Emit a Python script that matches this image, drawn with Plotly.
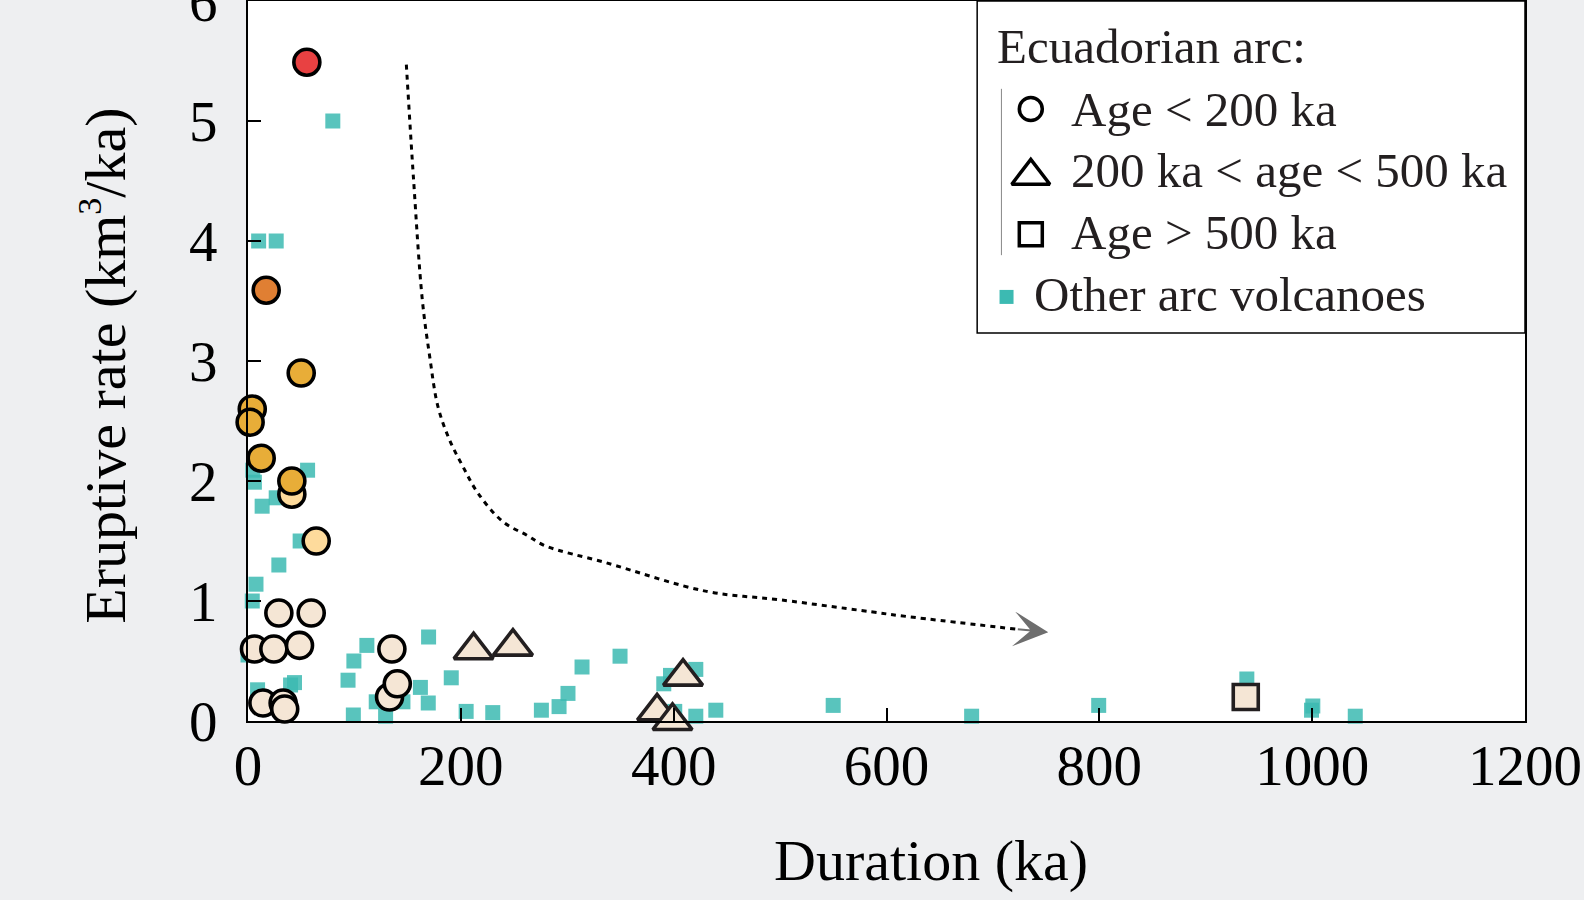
import plotly.graph_objects as go

# ---------------- data ----------------
# Other arc volcanoes: duration (ka), eruptive rate (km3/ka)
other_x = [10, 26.5, 79.7, 4.5, 6, 56, 13.3, 26.5, 49, 29, 7.5, 4, 0, 9, 40, 43.7,
           99, 94, 99.5, 111.7, 129.3, 120.5, 145.6, 162, 169.4, 169.7, 191, 205, 230,
           275.7, 292.3, 300.7, 313.9, 349.6, 390.7, 397, 420.8, 401, 420.8, 439.6,
           549.9, 680, 799.4, 938.6, 1000.6, 999.4, 1040.5]
other_y = [4.0, 4.0, 5.0, 2.09, 1.99, 2.09, 1.79, 1.86, 1.5, 1.3, 1.14, 1.0, 0.55, 0.26, 0.30, 0.32,
           0.05, 0.34, 0.5, 0.63, 0.04, 0.16, 0.16, 0.28, 0.15, 0.70, 0.36, 0.08, 0.07,
           0.09, 0.12, 0.23, 0.45, 0.54, 0.31, 0.38, 0.43, 0.08, 0.04, 0.09,
           0.13, 0.04, 0.13, 0.35, 0.125, 0.09, 0.04]

# Ecuadorian arc, age < 200 ka (circles); group = rate class (fill colour)
young_x = [55.3, 17.1, 50, 4, 2, 12.4, 41.2, 41.2, 64.1,
           29, 59.4, 6.1, 24.3, 48.4, 14, 33, 34.5, 135.2, 133, 140.3]
young_y = [5.49, 3.59, 2.9, 2.6, 2.49, 2.19, 1.89, 2.0, 1.5,
           0.9, 0.9, 0.6, 0.6, 0.63, 0.15, 0.15, 0.10, 0.6, 0.2, 0.31]
young_group = ["very high", "high", "mid", "mid", "mid", "mid", "low", "mid", "low",
               "very low", "very low", "very low", "very low", "very low", "very low",
               "very low", "very low", "very low", "very low", "very low"]

# Ecuadorian arc, 200 ka < age < 500 ka (triangles)
mid_x = [212, 249, 408.8, 384.4, 398.9]
mid_y = [0.59, 0.62, 0.37, 0.08, 0.0]

# Ecuadorian arc, age > 500 ka (square)
old_x = [937.6]
old_y = [0.20]

# trend arrow path
arrow_x = [148.8, 155.6, 163.8, 170.7, 178.5, 189.5, 202, 216, 239.6, 261.6, 279.3, 336, 431, 499.8, 593.8, 610.7, 722]
arrow_y = [5.47, 4.51, 3.51, 3.04, 2.62, 2.34, 2.12, 1.90, 1.66, 1.55, 1.46, 1.32, 1.08, 1.01, 0.90, 0.88, 0.765]

x_ticks = [0, 200, 400, 600, 800, 1000, 1200]
y_ticks = [0, 1, 2, 3, 4, 5, 6]

# ---------------- style ----------------
SERIF = "Liberation Serif, Times New Roman, serif"
INK = "#231f20"
BG = "#eeeff1"
group_colors = {"very high": "#e84142", "high": "#e07f33", "mid": "#e8ad38",
                "low": "#fedb9c", "very low": "#f5e6d5"}
BEIGE = "#f5e6d5"
TEAL = "#3cbab2"

fig = go.Figure()

# trend arrow (dotted)
fig.add_trace(go.Scatter(x=arrow_x, y=arrow_y, mode="lines",
                         line=dict(color="black", width=3, dash="5px,5px", shape="spline"),
                         hoverinfo="skip", showlegend=False))

fig.add_trace(go.Scatter(x=other_x, y=other_y, mode="markers", showlegend=False,
                         marker=dict(symbol="square", size=15, color=TEAL, opacity=0.85,
                                     line=dict(width=0)), cliponaxis=False))

fig.add_trace(go.Scatter(x=young_x, y=young_y, mode="markers", showlegend=False,
                         marker=dict(symbol="circle", size=26,
                                     color=[group_colors[g] for g in young_group],
                                     line=dict(color="black", width=3.6)), cliponaxis=False))

fig.add_trace(go.Scatter(x=mid_x, y=mid_y, mode="markers", showlegend=False,
                         marker=dict(symbol="triangle-up", size=34, color=BEIGE,
                                     line=dict(color=INK, width=3.6)), cliponaxis=False))

fig.add_trace(go.Scatter(x=old_x, y=old_y, mode="markers", showlegend=False,
                         marker=dict(symbol="square", size=25, color=BEIGE,
                                     line=dict(color=INK, width=3.6)), cliponaxis=False))

# arrow head
fig.add_annotation(x=arrow_x[-1] + 30, y=arrow_y[-1] - 0.025, ax=arrow_x[-1], ay=arrow_y[-1],
                   xref="x", yref="y", axref="x", ayref="y", text="", showarrow=True,
                   arrowhead=3, arrowsize=2.9, arrowwidth=2, arrowcolor="#6e6e6e", standoff=0)

# ---------------- manual legend ----------------
LEG_FONT = dict(family=SERIF, size=49, color=INK)
fig.add_shape(type="rect", xref="paper", yref="paper", x0=0.571, x1=1.0, y0=0.539, y1=1.0,
              line=dict(color="black", width=1.5), fillcolor="white", layer="below")
fig.add_shape(type="line", xref="paper", yref="paper", x0=0.590, x1=0.590, y0=0.647, y1=0.878,
              line=dict(color="#888888", width=1))

leg_labels = ["Ecuadorian arc:", "Age &lt; 200 ka", "200 ka &lt; age &lt; 500 ka",
              "Age &gt; 500 ka", "Other arc volcanoes"]
leg_tx = [0.585, 0.643, 0.643, 0.643, 0.614]
leg_ty = [0.9375, 0.850, 0.764, 0.679, 0.593]
for t, lx, ly in zip(leg_labels, leg_tx, leg_ty):
    fig.add_annotation(x=lx, y=ly, xref="paper", yref="paper", text=t, showarrow=False,
                       xanchor="left", yanchor="middle", font=LEG_FONT)

fig.add_trace(go.Scatter(x=[0.613], y=[0.850], xaxis="x2", yaxis="y2", mode="markers",
                         showlegend=False, hoverinfo="skip",
                         marker=dict(symbol="circle", size=23, color="white",
                                     line=dict(color="black", width=3.5))))
fig.add_trace(go.Scatter(x=[0.613], y=[0.757], xaxis="x2", yaxis="y2", mode="markers",
                         showlegend=False, hoverinfo="skip",
                         marker=dict(symbol="triangle-up", size=33, color="white",
                                     line=dict(color="black", width=3.5))))
fig.add_trace(go.Scatter(x=[0.613], y=[0.676], xaxis="x2", yaxis="y2", mode="markers",
                         showlegend=False, hoverinfo="skip",
                         marker=dict(symbol="square", size=23, color="white",
                                     line=dict(color="black", width=3.5))))
fig.add_trace(go.Scatter(x=[0.594], y=[0.589], xaxis="x2", yaxis="y2", mode="markers",
                         showlegend=False, hoverinfo="skip",
                         marker=dict(symbol="square", size=14, color=TEAL, line=dict(width=0))))

# ---------------- axis titles ----------------
fig.add_annotation(x=0.535, y=-0.194, xref="paper", yref="paper", text="Duration (ka)",
                   showarrow=False, xanchor="center", yanchor="middle",
                   font=dict(family=SERIF, size=58, color="black"))
fig.add_annotation(x=-0.113, y=0.493, xref="paper", yref="paper",
                   text="Eruptive rate (km<sup><span style='font-size:34px'>3</span></sup>/ka)",
                   textangle=-90, showarrow=False, xanchor="center", yanchor="middle",
                   font=dict(family=SERIF, size=58, color="black"))

axis_common = dict(showline=True, linecolor="black", linewidth=2, mirror=True,
                   ticks="inside", ticklen=13, tickwidth=2, tickcolor="black",
                   showgrid=False, zeroline=False, ticklabeloverflow="allow",
                   automargin=False,
                   tickfont=dict(family=SERIF, size=57, color="black"))

fig.update_layout(
    width=1584, height=900, autosize=False,
    margin=dict(l=248, r=59, t=1, b=179, autoexpand=False),
    paper_bgcolor=BG, plot_bgcolor="white",
    showlegend=False,
    xaxis=dict(range=[0, 1200], tickvals=x_ticks, ticklabelstandoff=-6, **axis_common),
    yaxis=dict(range=[0, 6], tickvals=y_ticks, ticklabelstandoff=17, **axis_common),
    xaxis2=dict(range=[0, 1], overlaying="x", visible=False, fixedrange=True),
    yaxis2=dict(range=[0, 1], overlaying="y", visible=False, fixedrange=True),
)

fig.write_html("out.html", config={"displayModeBar": False},
               post_script="document.body.style.margin='0px';"
                           "document.body.style.background='" + BG + "';")
